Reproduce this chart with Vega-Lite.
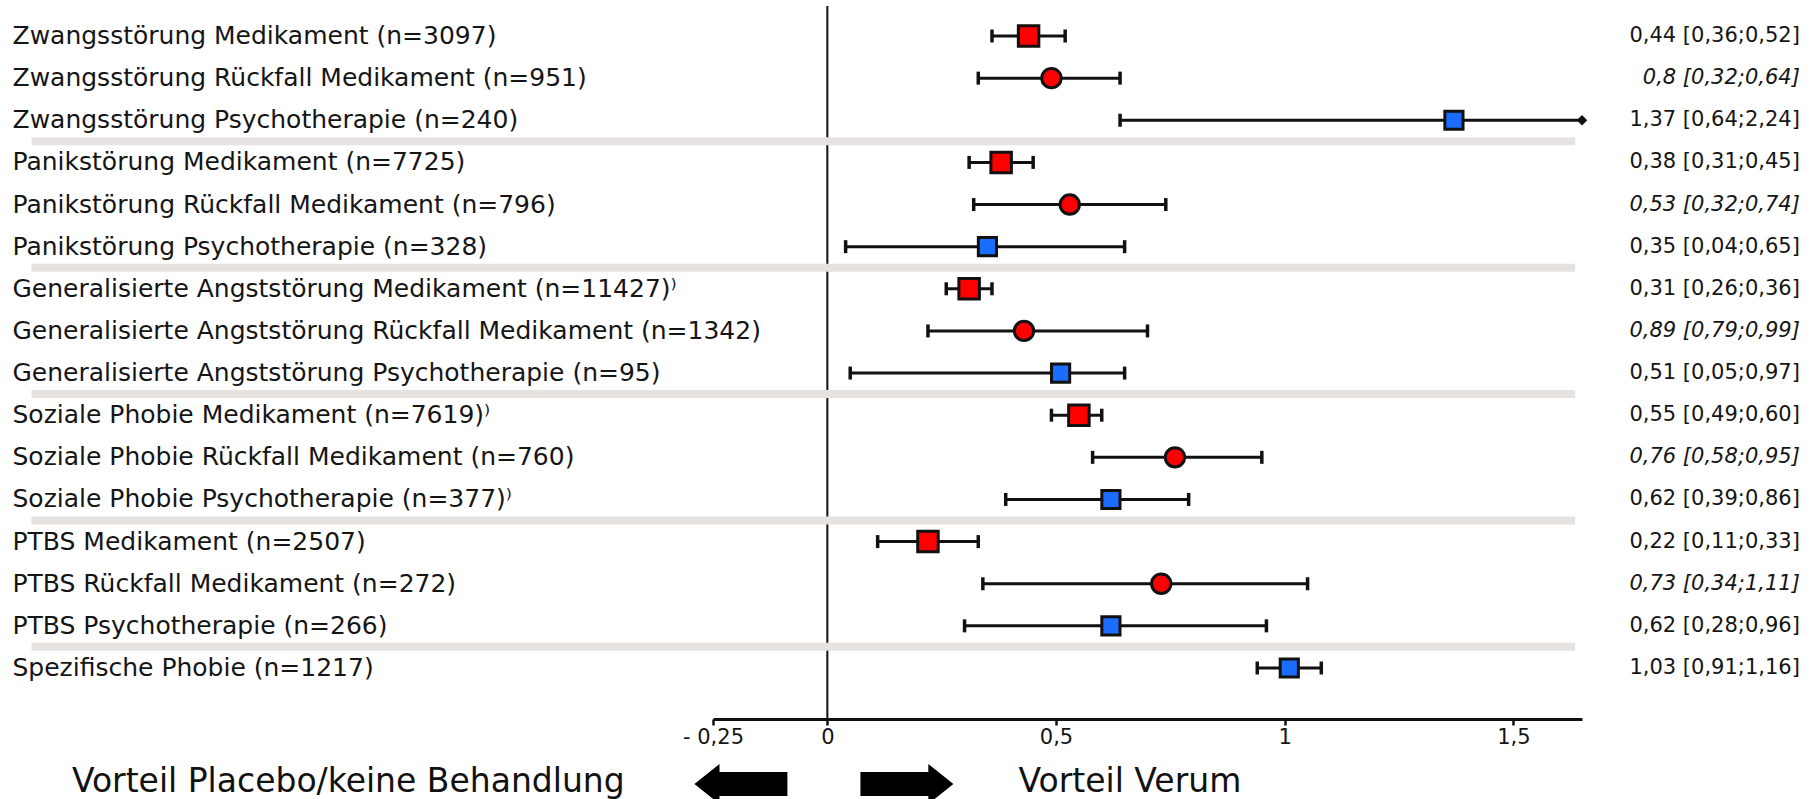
{
  "$schema": "https://vega.github.io/schema/vega-lite/v6.json",
  "width": 869,
  "height": 692,
  "autosize": "none",
  "padding": {"left": 713, "top": 6, "right": 233, "bottom": 101},
  "background": "white",
  "config": {"view": {"stroke": null}, "font": "DejaVu Sans"},
  "datasets": {
    "rows": [
      {"label": "Zwangsstörung Medikament (n=3097)", "type": "Medikament", "est": 0.44, "lo": 0.36, "hi": 0.52, "ci": "0,44 [0,36;0,52]"},
      {"label": "Zwangsstörung Rückfall Medikament (n=951)", "type": "Rückfall", "est": 0.49, "lo": 0.33, "hi": 0.64, "ci": "0,8 [0,32;0,64]"},
      {"label": "Zwangsstörung Psychotherapie (n=240)", "type": "Psychotherapie", "est": 1.37, "lo": 0.64, "hi": 2.24, "ci": "1,37 [0,64;2,24]"},
      {"label": "Panikstörung Medikament (n=7725)", "type": "Medikament", "est": 0.38, "lo": 0.31, "hi": 0.45, "ci": "0,38 [0,31;0,45]"},
      {"label": "Panikstörung Rückfall Medikament (n=796)", "type": "Rückfall", "est": 0.53, "lo": 0.32, "hi": 0.74, "ci": "0,53 [0,32;0,74]"},
      {"label": "Panikstörung Psychotherapie (n=328)", "type": "Psychotherapie", "est": 0.35, "lo": 0.04, "hi": 0.65, "ci": "0,35 [0,04;0,65]"},
      {"label": "Generalisierte Angststörung Medikament (n=11427)⁾", "type": "Medikament", "est": 0.31, "lo": 0.26, "hi": 0.36, "ci": "0,31 [0,26;0,36]"},
      {"label": "Generalisierte Angststörung Rückfall Medikament (n=1342)", "type": "Rückfall", "est": 0.43, "lo": 0.22, "hi": 0.70, "ci": "0,89 [0,79;0,99]"},
      {"label": "Generalisierte Angststörung Psychotherapie (n=95)", "type": "Psychotherapie", "est": 0.51, "lo": 0.05, "hi": 0.65, "ci": "0,51 [0,05;0,97]"},
      {"label": "Soziale Phobie Medikament (n=7619)⁾", "type": "Medikament", "est": 0.55, "lo": 0.49, "hi": 0.60, "ci": "0,55 [0,49;0,60]"},
      {"label": "Soziale Phobie Rückfall Medikament (n=760)", "type": "Rückfall", "est": 0.76, "lo": 0.58, "hi": 0.95, "ci": "0,76 [0,58;0,95]"},
      {"label": "Soziale Phobie Psychotherapie (n=377)⁾", "type": "Psychotherapie", "est": 0.62, "lo": 0.39, "hi": 0.79, "ci": "0,62 [0,39;0,86]"},
      {"label": "PTBS Medikament (n=2507)", "type": "Medikament", "est": 0.22, "lo": 0.11, "hi": 0.33, "ci": "0,22 [0,11;0,33]"},
      {"label": "PTBS Rückfall Medikament (n=272)", "type": "Rückfall", "est": 0.73, "lo": 0.34, "hi": 1.05, "ci": "0,73 [0,34;1,11]"},
      {"label": "PTBS Psychotherapie (n=266)", "type": "Psychotherapie", "est": 0.62, "lo": 0.30, "hi": 0.96, "ci": "0,62 [0,28;0,96]"},
      {"label": "Spezifische Phobie (n=1217)", "type": "Psychotherapie", "est": 1.01, "lo": 0.94, "hi": 1.08, "ci": "1,03 [0,91;1,16]"}
    ],
    "seps": [
      {"label": "Zwangsstörung Psychotherapie (n=240)"},
      {"label": "Panikstörung Psychotherapie (n=328)"},
      {"label": "Generalisierte Angststörung Psychotherapie (n=95)"},
      {"label": "Soziale Phobie Psychotherapie (n=377)⁾"},
      {"label": "PTBS Psychotherapie (n=266)"}
    ]
  },
  "encoding": {
    "y": {
      "field": "label",
      "type": "nominal",
      "title": null,
      "scale": {
        "domain": [
          "Zwangsstörung Medikament (n=3097)",
          "Zwangsstörung Rückfall Medikament (n=951)",
          "Zwangsstörung Psychotherapie (n=240)",
          "Panikstörung Medikament (n=7725)",
          "Panikstörung Rückfall Medikament (n=796)",
          "Panikstörung Psychotherapie (n=328)",
          "Generalisierte Angststörung Medikament (n=11427)⁾",
          "Generalisierte Angststörung Rückfall Medikament (n=1342)",
          "Generalisierte Angststörung Psychotherapie (n=95)",
          "Soziale Phobie Medikament (n=7619)⁾",
          "Soziale Phobie Rückfall Medikament (n=760)",
          "Soziale Phobie Psychotherapie (n=377)⁾",
          "PTBS Medikament (n=2507)",
          "PTBS Rückfall Medikament (n=272)",
          "PTBS Psychotherapie (n=266)",
          "Spezifische Phobie (n=1217)"
        ],
        "paddingInner": 0,
        "paddingOuter": 0.212
      },
      "axis": {
        "orient": "left",
        "domain": false,
        "ticks": false,
        "tickSize": 0,
        "grid": false,
        "labelAlign": "left",
        "labelBaseline": "middle",
        "labelPadding": 701,
        "labelLimit": 1000,
        "labelFont": "DejaVu Sans",
        "labelFontSize": 25,
        "labelColor": "#151515"
      }
    }
  },
  "layer": [
    {
      "data": {"values": [{}]},
      "mark": {"type": "rule", "color": "#111111", "strokeWidth": 2, "y2Offset": 21},
      "encoding": {
        "x": {"datum": 0, "type": "quantitative", "scale": {"domain": [-0.25, 1.65], "nice": false, "zero": false}},
        "y": {"value": 0},
        "y2": {"value": "height"}
      }
    },
    {
      "data": {"name": "seps"},
      "mark": {"type": "rule", "color": "#e6e2df", "strokeWidth": 8, "yOffset": 21},
      "encoding": {
        "x": {"datum": -1.74, "type": "quantitative", "scale": {"domain": [-0.25, 1.65], "nice": false, "zero": false}},
        "x2": {"datum": 1.635}
      }
    },
    {
      "data": {"name": "rows"},
      "mark": {"type": "rule", "color": "#111111", "strokeWidth": 3, "clip": true},
      "encoding": {
        "x": {
          "field": "lo",
          "type": "quantitative",
          "scale": {"domain": [-0.25, 1.65], "nice": false, "zero": false},
          "axis": {
            "orient": "bottom",
            "values": [-0.25, 0, 0.5, 1, 1.5],
            "labelExpr": "datum.value == -0.25 ? '- 0,25' : replace(format(datum.value, '~g'), '.', ',')",
            "offset": 21,
            "grid": false,
            "title": null,
            "domainColor": "#111111",
            "domainWidth": 3,
            "tickColor": "#111111",
            "tickWidth": 2.5,
            "tickSize": 6,
            "labelPadding": 1,
            "labelFont": "DejaVu Sans",
            "labelFontSize": 21,
            "labelColor": "#151515",
            "labelFlush": false,
            "labelOverlap": false
          }
        },
        "x2": {"field": "hi"}
      }
    },
    {
      "data": {"name": "rows"},
      "mark": {"type": "tick", "color": "#111111", "size": 13, "thickness": 3.5, "opacity": 1},
      "encoding": {
        "x": {"field": "lo", "type": "quantitative", "scale": {"domain": [-0.25, 1.65], "nice": false, "zero": false}}
      }
    },
    {
      "data": {"name": "rows"},
      "transform": [{"filter": "datum.hi <= 1.65"}],
      "mark": {"type": "tick", "color": "#111111", "size": 13, "thickness": 3.5, "opacity": 1},
      "encoding": {
        "x": {"field": "hi", "type": "quantitative", "scale": {"domain": [-0.25, 1.65], "nice": false, "zero": false}}
      }
    },
    {
      "data": {"name": "rows"},
      "transform": [{"filter": "datum.hi > 1.65"}],
      "mark": {"type": "point", "shape": "diamond", "filled": true, "color": "#111111", "size": 110, "opacity": 1},
      "encoding": {
        "x": {"value": "width"}
      }
    },
    {
      "data": {"name": "rows"},
      "mark": {"type": "point", "filled": true, "stroke": "#111111", "strokeWidth": 3, "opacity": 1},
      "encoding": {
        "x": {"field": "est", "type": "quantitative", "scale": {"domain": [-0.25, 1.65], "nice": false, "zero": false}},
        "shape": {"field": "type", "type": "nominal", "legend": null, "scale": {"domain": ["Medikament", "Rückfall", "Psychotherapie"], "range": ["square", "circle", "square"]}},
        "fill": {"field": "type", "type": "nominal", "legend": null, "scale": {"domain": ["Medikament", "Rückfall", "Psychotherapie"], "range": ["#ff0000", "#ff0000", "#1a6dff"]}},
        "size": {"field": "type", "type": "nominal", "legend": null, "scale": {"domain": ["Medikament", "Rückfall", "Psychotherapie"], "range": [420, 330, 420]}}
      }
    },
    {
      "data": {"name": "rows"},
      "transform": [{"filter": "datum.type != 'Rückfall'"}],
      "mark": {"type": "text", "align": "right", "baseline": "middle", "font": "DejaVu Sans", "fontSize": 21, "color": "#151515"},
      "encoding": {
        "x": {"datum": 2.1263, "type": "quantitative", "scale": {"domain": [-0.25, 1.65], "nice": false, "zero": false}},
        "text": {"field": "ci"}
      }
    },
    {
      "data": {"name": "rows"},
      "transform": [{"filter": "datum.type == 'Rückfall'"}],
      "mark": {"type": "text", "align": "right", "baseline": "middle", "font": "DejaVu Sans", "fontSize": 21, "fontStyle": "italic", "color": "#151515"},
      "encoding": {
        "x": {"datum": 2.1263, "type": "quantitative", "scale": {"domain": [-0.25, 1.65], "nice": false, "zero": false}},
        "text": {"field": "ci"}
      }
    },
    {
      "data": {"values": [{}]},
      "mark": {"type": "text", "align": "right", "baseline": "middle", "font": "DejaVu Sans", "fontSize": 33, "color": "#111111", "yOffset": 84},
      "encoding": {
        "x": {"datum": -0.443, "type": "quantitative", "scale": {"domain": [-0.25, 1.65], "nice": false, "zero": false}},
        "y": {"value": "height"},
        "text": {"value": "Vorteil Placebo/keine Behandlung"}
      }
    },
    {
      "data": {"values": [{}]},
      "mark": {"type": "text", "align": "left", "baseline": "middle", "font": "DejaVu Sans", "fontSize": 33, "color": "#111111", "yOffset": 84},
      "encoding": {
        "x": {"datum": 0.418, "type": "quantitative", "scale": {"domain": [-0.25, 1.65], "nice": false, "zero": false}},
        "y": {"value": "height"},
        "text": {"value": "Vorteil Verum"}
      }
    },
    {
      "data": {"values": [{}]},
      "mark": {"type": "point", "filled": true, "color": "#000000", "opacity": 1, "size": 8649, "shape": "M-1,0L-0.46,-0.43L-0.46,-0.26L1,-0.26L1,0.26L-0.46,0.26L-0.46,0.43Z", "yOffset": 86},
      "encoding": {
        "x": {"datum": -0.189, "type": "quantitative", "scale": {"domain": [-0.25, 1.65], "nice": false, "zero": false}},
        "y": {"value": "height"}
      }
    },
    {
      "data": {"values": [{}]},
      "mark": {"type": "point", "filled": true, "color": "#000000", "opacity": 1, "size": 8649, "shape": "M1,0L0.46,-0.43L0.46,-0.26L-1,-0.26L-1,0.26L0.46,0.26L0.46,0.43Z", "yOffset": 86},
      "encoding": {
        "x": {"datum": 0.174, "type": "quantitative", "scale": {"domain": [-0.25, 1.65], "nice": false, "zero": false}},
        "y": {"value": "height"}
      }
    }
  ]
}
